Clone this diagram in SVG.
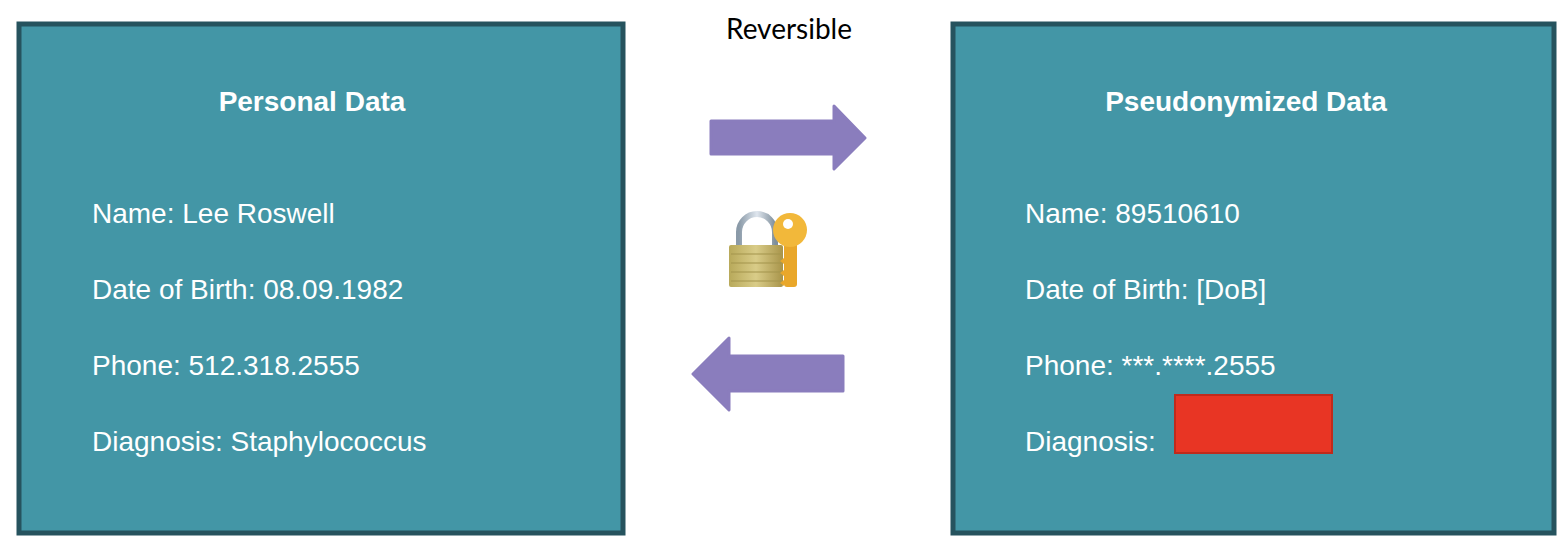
<svg xmlns="http://www.w3.org/2000/svg" width="1566" height="546" viewBox="0 0 1566 546">
<style>
.box{fill:#4396a6;stroke:#26535e;stroke-width:5}
.t{font-family:"Liberation Sans",Arial,sans-serif;fill:#fff;font-size:28px}
.h{font-family:"Liberation Sans",Arial,sans-serif;fill:#fff;font-size:28px;font-weight:bold;text-anchor:middle}
.arr{fill:#8a7dbd;stroke:#8a7dbd;stroke-width:3;stroke-linejoin:round}
</style>
<defs>
<linearGradient id="brass" x1="0" x2="1"><stop offset="0" stop-color="#b8a95a"/><stop offset="0.5" stop-color="#d9cc88"/><stop offset="1" stop-color="#a8944a"/></linearGradient>
<linearGradient id="steel" x1="0" x2="1"><stop offset="0" stop-color="#8a9aa8"/><stop offset="0.5" stop-color="#dfe6ee"/><stop offset="1" stop-color="#7f8f9c"/></linearGradient>
</defs>
<text x="789" y="39" font-family="Lato,'Liberation Sans',sans-serif" font-size="28" text-anchor="middle" fill="#000">Reversible</text>
<g id="personal">
<rect class="box" x="19" y="24" width="604" height="509"/>
<text class="h" x="312" y="111">Personal Data</text>
<text class="t" x="92" y="223">Name:  Lee Roswell</text>
<text class="t" x="92" y="299">Date of Birth: 08.09.1982</text>
<text class="t" x="92" y="375">Phone: 512.318.2555</text>
<text class="t" x="92" y="451">Diagnosis: Staphylococcus</text>
</g>
<g id="pseudo">
<rect class="box" x="953" y="24" width="601" height="509"/>
<text class="h" x="1246" y="111">Pseudonymized  Data</text>
<text class="t" x="1025" y="223">Name:  89510610</text>
<text class="t" x="1025" y="299">Date of Birth: [DoB]</text>
<text class="t" x="1025" y="375">Phone: ***.****.2555</text>
<text class="t" x="1025" y="451">Diagnosis:</text>
<rect x="1175" y="395" width="157" height="58" fill="#e83524" stroke="#c02a1c" stroke-width="2"/>
</g>
<g id="lock">
<path d="M739 246 V232 a18 18 0 0 1 36 0 V246" fill="none" stroke="url(#steel)" stroke-width="6"/>
<rect x="729" y="245" width="54" height="42" rx="2" fill="url(#brass)"/>
<g stroke="#a3944c" stroke-width="1"><line x1="731" y1="254" x2="781" y2="254"/><line x1="731" y1="263" x2="781" y2="263"/><line x1="731" y1="272" x2="781" y2="272"/><line x1="731" y1="281" x2="781" y2="281"/></g>
<rect x="784" y="240" width="13" height="47" rx="3" fill="#e9a72a"/>
<path d="M784 258 l-4 3 4 3z M784 270 l-4 3 4 3z M784 280 l-4 3 4 3z" fill="#e9a72a"/>
<circle cx="790" cy="230" r="17" fill="#f2b83a"/>
<circle cx="788" cy="224" r="5" fill="#fff"/>
</g>
<g id="connectors">
<path class="arr" d="M711 121 H834 V106 L865 138 L834 169 V154 H711 Z"/>
<path class="arr" d="M843 356 H729 V338 L693 374 L729 410 V391 H843 Z"/>
</g>
</svg>
